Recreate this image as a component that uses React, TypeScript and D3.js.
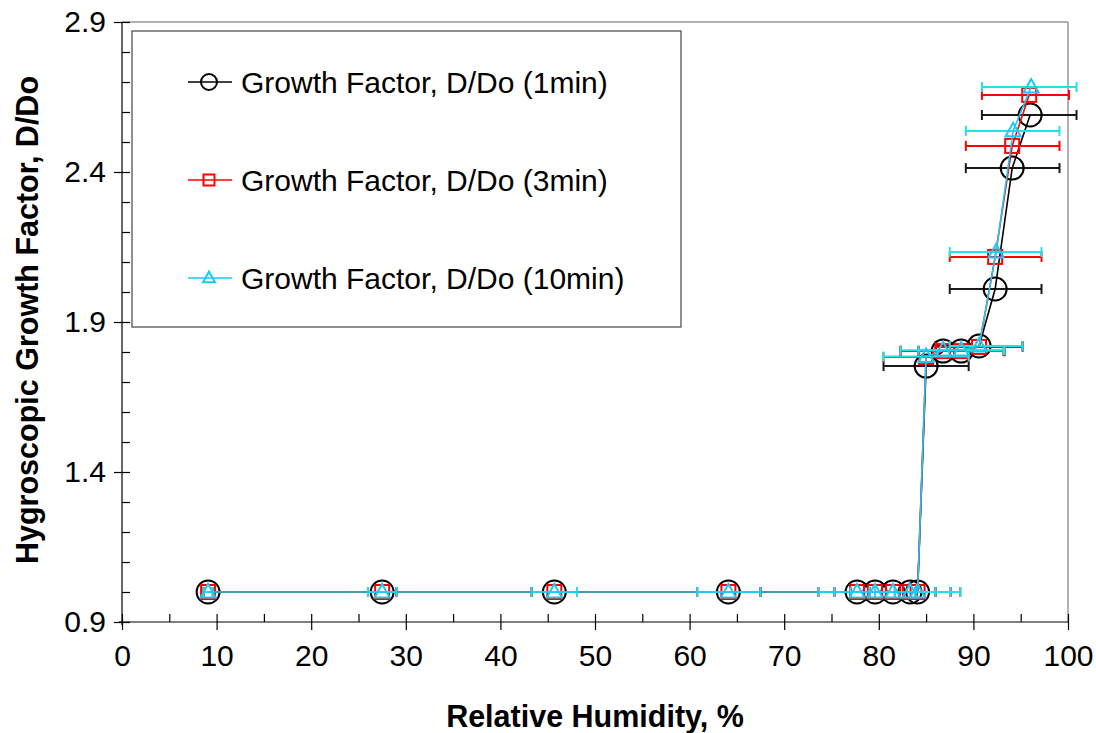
import React, { useEffect, useRef } from "react";
import * as d3 from "d3";

// relative humidity (%) and growth factor D/Do, one set per exposure time
const rh1 = [9.1, 27.5, 45.7, 64.1, 77.7, 79.6, 81.5, 83.3, 84.1, 85.0, 86.8, 88.7, 90.6, 92.3, 94.1, 96.0];
const gf1 = [1.0, 1.0, 1.0, 1.0, 1.0, 1.0, 1.0, 1.0, 1.0, 1.753, 1.803, 1.803, 1.82, 2.01, 2.413, 2.59];
const lo1 = [8.6, 26.0, 43.3, 60.8, 73.6, 75.3, 77.0, 79.0, 79.6, 80.5, 82.3, 84.2, 86.0, 87.5, 89.2, 90.9];
const hi1 = [9.6, 29.0, 48.1, 67.5, 81.7, 83.9, 86.0, 87.6, 88.6, 89.5, 93.3, 93.2, 95.2, 97.2, 99.1, 100.9];

const rh3 = [9.1, 27.5, 45.7, 64.1, 77.7, 79.6, 81.5, 83.3, 84.1, 85.0, 86.8, 88.7, 90.6, 92.3, 94.1, 95.9];
const gf3 = [1.0, 1.0, 1.0, 1.0, 1.0, 1.0, 1.0, 1.0, 1.0, 1.783, 1.803, 1.803, 1.817, 2.117, 2.487, 2.657];
const lo3 = [8.6, 26.0, 43.3, 60.8, 73.6, 75.3, 77.0, 79.0, 79.6, 80.5, 82.3, 84.2, 86.0, 87.5, 89.2, 90.9];
const hi3 = [9.6, 29.0, 48.1, 67.5, 81.7, 83.9, 86.0, 87.6, 88.6, 89.5, 93.3, 93.2, 95.2, 97.2, 99.1, 100.1];

const rh10 = [9.1, 27.5, 45.7, 64.1, 77.7, 79.6, 81.5, 83.3, 84.1, 85.0, 86.8, 88.7, 90.6, 92.4, 94.2, 96.1];
const gf10 = [1.0, 1.0, 1.0, 1.0, 1.0, 1.0, 1.0, 1.0, 1.0, 1.785, 1.806, 1.806, 1.82, 2.133, 2.537, 2.683];
const lo10 = [8.6, 26.0, 43.3, 60.8, 73.6, 75.3, 77.0, 79.0, 79.6, 80.5, 82.3, 84.2, 87.5, 87.5, 89.2, 90.9];
const hi10 = [9.6, 29.0, 48.1, 67.5, 81.7, 83.9, 86.0, 87.6, 88.6, 89.5, 93.3, 93.2, 95.2, 97.2, 99.1, 100.9];

const seriesNames = ["Growth Factor, D/Do (1min)", "Growth Factor, D/Do (3min)", "Growth Factor, D/Do (10min)"];
const xTicks = [0, 10, 20, 30, 40, 50, 60, 70, 80, 90, 100];
const yTicks = [0.9, 1.4, 1.9, 2.4, 2.9];

const font = "'Liberation Sans', Arial, sans-serif";

export default function App() {
  const ref = useRef<SVGSVGElement>(null);

  useEffect(() => {
    const svg = d3.select(ref.current);
    svg.selectAll("*").remove();

    const x = d3.scaleLinear().domain([0, 100]).range([122, 1068]);
    const y = d3.scaleLinear().domain([0.9, 2.9]).range([622, 22]);

    const series = [
      { rh: rh1, gf: gf1, lo: lo1, hi: hi1, line: "#000", bar: "#1a1a1a", mark: "circle" },
      { rh: rh3, gf: gf3, lo: lo3, hi: hi3, line: "#ff0000", bar: "#ff0000", mark: "square" },
      { rh: rh10, gf: gf10, lo: lo10, hi: hi10, line: "#1ec8f5", bar: "#22e0ee", mark: "triangle" },
    ];

    // frame: grey top and right edges
    svg.append("line").attr("x1", x(0)).attr("x2", x(100)).attr("y1", y(2.9)).attr("y2", y(2.9))
      .attr("stroke", "#999").attr("stroke-width", 1.5);
    svg.append("line").attr("x1", x(100)).attr("x2", x(100)).attr("y1", y(2.9)).attr("y2", y(0.9))
      .attr("stroke", "#999").attr("stroke-width", 1.5);

    // x axis: major ticks cross the line, minor ticks point inward
    const xMinor = d3.range(5, 100, 10);
    const gxIn = svg.append("g").attr("transform", `translate(0,${y(0.9)})`);
    gxIn.call(d3.axisBottom(x).tickValues(xTicks.concat(xMinor)).tickSize(-8).tickFormat(() => "") as any);
    const gx = svg.append("g").attr("transform", `translate(0,${y(0.9)})`);
    gx.call(d3.axisBottom(x).tickValues(xTicks).tickSize(8).tickFormat(d3.format("d")) as any);
    gx.selectAll(".domain").attr("d", `M${x(0) - 3},0H${x(100)}`);
    gxIn.selectAll(".domain").remove();
    svg.selectAll("g line, g path.domain").attr("stroke", "#000").attr("stroke-width", 1.2);
    gx.selectAll("text").attr("font-family", font).attr("font-size", 30).attr("fill", "#000").attr("dy", "1.1em");

    // y axis
    const yMinor = d3.range(1.0, 2.9, 0.1).filter((v) => Math.abs((v - 0.9) / 0.5 - Math.round((v - 0.9) / 0.5)) > 0.01);
    const gyIn = svg.append("g").attr("transform", `translate(${x(0)},0)`);
    gyIn.call(d3.axisLeft(y).tickValues(yTicks.concat(yMinor)).tickSize(-8).tickFormat(() => "") as any);
    gyIn.selectAll(".domain").remove();
    const gy = svg.append("g").attr("transform", `translate(${x(0)},0)`);
    gy.call(d3.axisLeft(y).tickValues(yTicks).tickSize(8).tickFormat(d3.format(".1f")) as any);
    gy.selectAll(".domain").attr("d", `M0,${y(2.9)}V${y(0.9) + 3}`);
    [gxIn, gx, gyIn, gy].forEach((g) => g.selectAll("line, path").attr("stroke", "#000").attr("stroke-width", 1.2));
    gy.selectAll("text").attr("font-family", font).attr("font-size", 30).attr("fill", "#000").attr("x", -16);

    // axis titles
    svg.append("text").attr("x", (x(0) + x(100)) / 2).attr("y", 727).attr("text-anchor", "middle")
      .attr("font-family", font).attr("font-size", 30.5).attr("font-weight", "bold").text("Relative Humidity, %");
    svg.append("text").attr("transform", `translate(38,${320}) rotate(-90)`).attr("text-anchor", "middle")
      .attr("font-family", font).attr("font-size", 30.5).attr("font-weight", "bold")
      .text("Hygroscopic Growth Factor, D/Do");

    const marker = (g: any, kind: string, cx: number, cy: number, s: number, color: string) => {
      if (kind === "circle") {
        g.append("circle").attr("cx", cx).attr("cy", cy).attr("r", s)
          .attr("fill", "none").attr("stroke", color).attr("stroke-width", 2);
      } else if (kind === "square") {
        g.append("rect").attr("x", cx - s).attr("y", cy - s).attr("width", 2 * s).attr("height", 2 * s)
          .attr("fill", "none").attr("stroke", color).attr("stroke-width", 2);
      } else {
        const h = s * 1.8;
        g.append("path")
          .attr("d", `M${cx},${cy - h * 0.6}L${cx + s},${cy + h * 0.4}L${cx - s},${cy + h * 0.4}Z`)
          .attr("fill", "none").attr("stroke", color).attr("stroke-width", 2);
      }
    };

    const plot = svg.append("g");
    series.forEach((s) => {
      const g = plot.append("g");
      const pts = s.rh.map((v, i) => [v, s.gf[i]] as [number, number]);
      // horizontal error bars
      s.rh.forEach((_, i) => {
        const yy = y(s.gf[i]);
        g.append("line").attr("x1", x(s.lo[i])).attr("x2", x(s.hi[i])).attr("y1", yy).attr("y2", yy)
          .attr("stroke", s.bar).attr("stroke-width", 2);
        [s.lo[i], s.hi[i]].forEach((e) => {
          g.append("line").attr("x1", x(e)).attr("x2", x(e)).attr("y1", yy - 5).attr("y2", yy + 5)
            .attr("stroke", s.bar).attr("stroke-width", 2);
        });
      });
      const line = d3.line<[number, number]>().x((d) => x(d[0])).y((d) => y(d[1]));
      g.append("path").attr("d", line(pts)).attr("fill", "none").attr("stroke", s.line).attr("stroke-width", 1.6);
      pts.forEach((d) => {
        const size = s.mark === "circle" ? 11.5 : s.mark === "square" ? 7 : 7.5;
        marker(g, s.mark, x(d[0]), y(d[1]), size, s.line);
      });
    });

    // legend
    const lg = svg.append("g");
    lg.append("rect").attr("x", 132).attr("y", 31).attr("width", 549).attr("height", 296)
      .attr("fill", "#fff").attr("stroke", "#444").attr("stroke-width", 1.2);
    const rowY = d3.scalePoint<number>().domain([0, 1, 2]).range([82, 278]);
    series.forEach((s, i) => {
      const cy = rowY(i) as number;
      lg.append("line").attr("x1", 188).attr("x2", 232).attr("y1", cy).attr("y2", cy)
        .attr("stroke", s.line).attr("stroke-width", 1.6);
      const size = s.mark === "circle" ? 8 : s.mark === "square" ? 5.5 : 6;
      marker(lg, s.mark, 209, cy, size, s.line);
      lg.append("text").attr("x", 241).attr("y", cy + 11).attr("font-family", font).attr("font-size", 30)
        .attr("fill", "#000").text(seriesNames[i]);
    });
  }, []);

  return (
    <svg
      ref={ref}
      width={1096}
      height={733}
      style={{ position: "absolute", left: 0, top: 0, background: "#fff" }}
    />
  );
}
